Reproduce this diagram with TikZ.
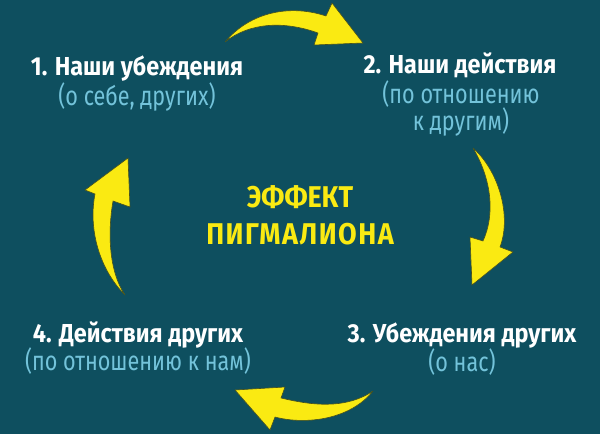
\documentclass[tikz,border=0pt]{standalone}
\usepackage{fontspec}
\setmainfont[FakeStretch=0.9]{Fira Sans}
\newfontfamily\subfont[FakeStretch=0.8]{Fira Sans}
\newfontfamily\widefont[FakeStretch=0.9,LetterSpace=5]{Fira Sans}
\definecolor{bg}{RGB}{14,79,95}
\definecolor{sub}{RGB}{115,195,218}
\definecolor{ylw}{RGB}{250,234,18}
\definecolor{ydark}{RGB}{70,80,30}
\tikzset{
  ttl/.style={anchor=base, text=white, font=\bfseries\fontsize{26}{30}\selectfont, inner sep=0pt},
  subt/.style={anchor=base, text=sub, font=\subfont\fontsize{27}{30}\selectfont, inner sep=0pt},
  ctr/.style={anchor=base, text=ylw, font=\bfseries\fontsize{30}{34}\selectfont, inner sep=0pt},
  ctrw/.style={ctr, font=\widefont\bfseries\fontsize{30}{34}\selectfont},
  arr/.style={fill=ylw, draw=ydark, line width=0.6pt, line join=round}
}
\begin{document}
\begin{tikzpicture}[x=1pt,y=-1pt]
\fill[bg] (0,0) rectangle (600,434);
\useasboundingbox (0,0) rectangle (600,434);
% texts
\node[ttl] (t1) at (137,75) {1. Наши убеждения};
\node[subt] (s1) at (137,105) {(о себе, других)};
\node[ttl] (t2) at (460,73) {2. Наши действия};
\node[subt] (s2a) at (461,103) {(по отношению};
\node[subt] (s2b) at (461,130) {к другим)};
\node[ttl] (t3) at (462,342) {3. Убеждения других};
\node[subt] (s3) at (462,371) {(о нас)};
\node[ttl] (t4) at (138,342) {4. Действия других};
\node[subt] (s4) at (138,370) {(по отношению к нам)};
\node[ctr] (c1) at (300,207) {ЭФФЕКТ};
\node[ctrw] (c2) at (300,244) {ПИГМАЛИОНА};
% arrows
\draw[arr] (225,42) .. controls (250,12) and (290,4) .. (326,16)
  -- (332,3) -- (363,43) -- (314,45) -- (318,33)
  .. controls (285,21) and (250,22) .. (225,42) -- cycle;
\draw[arr] (473,148) .. controls (498,170) and (512,215) .. (500,247)
  -- (513,252) -- (472,285) -- (470,237) -- (483,241)
  .. controls (495,215) and (492,180) .. (473,148) -- cycle;
\draw[arr] (373,391) .. controls (350,420) and (305,425) .. (275,417)
  -- (270,430) -- (235,390) -- (285,387) -- (281,398)
  .. controls (310,405) and (345,410) .. (373,391) -- cycle;
\draw[arr] (125,295) .. controls (100,270) and (88,230) .. (95,194)
  -- (85,190) -- (128,158) -- (130,207) -- (113,201)
  .. controls (108,230) and (108,270) .. (125,295) -- cycle;
\end{tikzpicture}
\end{document}
